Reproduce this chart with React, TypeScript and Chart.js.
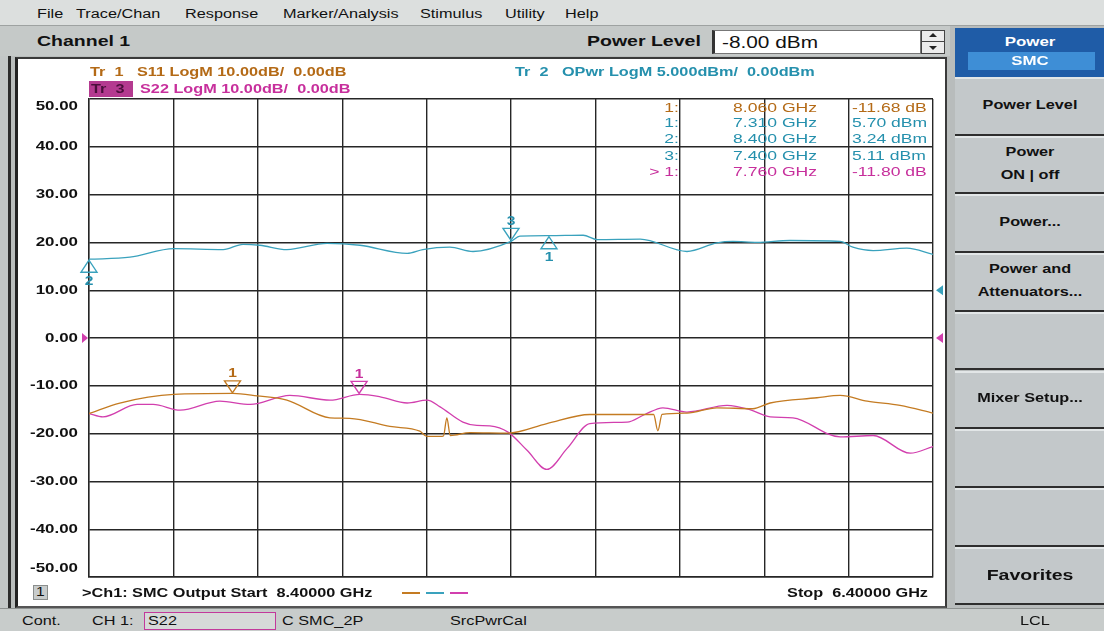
import React, { useEffect, useRef } from 'react';
import { Chart, registerables } from 'chart.js';

Chart.register(...registerables);

// ---------- data ----------
const xTickValues = [6.4, 6.6, 6.8, 7.0, 7.2, 7.4, 7.6, 7.8, 8.0, 8.2, 8.4];
const yTickValues = [50, 40, 30, 20, 10, 0, -10, -20, -30, -40, -50];
const startFreq = 8.4;
const stopFreq = 6.4;
const powerLevel = -8.0;

// Tr 1: S11 (dB)
const s11Freqs = [8.400, 8.327, 8.199, 8.059, 8.002, 7.931, 7.829, 7.782, 7.687, 7.616, 7.599, 7.568, 7.560, 7.552, 7.544, 7.497, 7.407, 7.315, 7.213, 7.125, 7.062, 7.052, 7.042, 6.983, 6.912, 6.827, 6.786, 6.675, 6.620, 6.556, 6.478, 6.400];
const s11Values = [-15.8, -13.6, -11.8, -11.6, -12.1, -13.0, -16.7, -16.8, -18.5, -19.5, -20.6, -20.6, -20.5, -16.7, -20.4, -19.8, -19.9, -17.9, -16.0, -16.0, -16.0, -19.4, -16.0, -15.7, -14.6, -14.8, -13.6, -12.5, -12.0, -13.2, -14.1, -15.7];

// Tr 2: OPwr (dBm)
const opwrFreqs = [8.400, 8.303, 8.199, 8.082, 8.035, 7.995, 7.931, 7.836, 7.758, 7.646, 7.609, 7.545, 7.490, 7.400, 7.379, 7.310, 7.229, 7.196, 7.094, 6.983, 6.912, 6.874, 6.817, 6.739, 6.620, 6.590, 6.542, 6.462, 6.400];
const opwrValues = [3.24, 3.45, 4.35, 4.25, 4.80, 4.70, 4.25, 4.90, 4.70, 3.85, 4.25, 4.50, 4.05, 5.11, 5.65, 5.70, 5.75, 5.30, 5.35, 4.05, 4.95, 5.10, 5.00, 5.20, 5.10, 4.50, 4.15, 4.40, 3.75];

// Tr 3: S22 (dB)
const s22Freqs = [8.400, 8.367, 8.286, 8.248, 8.184, 8.090, 8.018, 7.924, 7.829, 7.758, 7.710, 7.646, 7.599, 7.568, 7.514, 7.481, 7.450, 7.407, 7.362, 7.315, 7.267, 7.213, 7.125, 7.083, 7.040, 6.983, 6.888, 6.834, 6.786, 6.732, 6.620, 6.542, 6.454, 6.400];
const s22Values = [-15.8, -16.5, -13.9, -13.9, -15.1, -13.2, -13.9, -12.0, -13.0, -11.8, -12.3, -13.6, -13.0, -14.4, -17.6, -18.3, -18.4, -19.7, -23.5, -27.5, -23.1, -17.9, -17.6, -16.0, -14.6, -15.5, -14.1, -15.0, -16.5, -16.7, -20.7, -20.4, -24.1, -22.7];

// markers
const markerIds = ['1', '1', '2', '3', '1'];
const markerTraces = ['S11', 'OPwr', 'OPwr', 'OPwr', 'S22'];
const markerFreqs = [8.06, 7.31, 8.40, 7.40, 7.76];
const markerValues = [-11.68, 5.70, 3.24, 5.11, -11.80];
const markerUnits = ['dB', 'dBm', 'dBm', 'dBm', 'dB'];
const activeMarker = 4;

// ---------- styles ----------
const SX = 1.3;
const FONT = '"Liberation Sans", Arial, sans-serif';
const TRACE: Record<string, string> = { S11: '#c47b22', OPwr: '#3aa2bd', S22: '#d23fae' };
const TEXT: Record<string, string> = { S11: '#b46a16', OPwr: '#2590ad', S22: '#c72f9c' };
const markerBelow = [false, true, true, false, false];

const overlayPlugin = {
  id: 'vnaOverlay',
  afterDatasetsDraw(chart: any) {
    const { ctx, chartArea, scales } = chart;
    const xs = scales.x, ys = scales.y, y2 = scales.y2;
    ctx.save();
    // y tick labels
    ctx.fillStyle = '#111';
    ctx.font = `bold 13px ${FONT}`;
    ctx.textAlign = 'right';
    ctx.textBaseline = 'middle';
    yTickValues.forEach((v) => {
      let py = ys.getPixelForValue(v);
      py = Math.min(Math.max(py, chartArea.top + 7), chartArea.bottom - 9);
      ctx.save();
      ctx.translate(chartArea.left - 11, py);
      ctx.scale(SX, 1);
      ctx.fillText(v.toFixed(2), 0, 0);
      ctx.restore();
    });
    // reference arrows
    const fillTri = (pts: number[][], color: string) => {
      ctx.fillStyle = color;
      ctx.beginPath();
      ctx.moveTo(pts[0][0], pts[0][1]);
      ctx.lineTo(pts[1][0], pts[1][1]);
      ctx.lineTo(pts[2][0], pts[2][1]);
      ctx.closePath();
      ctx.fill();
    };
    const r0 = ys.getPixelForValue(0);
    const r2 = y2.getPixelForValue(0);
    const R = chartArea.right;
    fillTri([[R + 3, r2], [R + 10, r2 - 5], [R + 10, r2 + 5]], TRACE.OPwr);
    fillTri([[R + 3, r0], [R + 10, r0 - 5], [R + 10, r0 + 5]], TRACE.S22);
    const L = chartArea.left;
    fillTri([[L - 1, r0], [L - 7, r0 - 5], [L - 7, r0 + 5]], TRACE.S22);
    // markers
    markerFreqs.forEach((f, i) => {
      const tr = markerTraces[i];
      const sc = tr === 'OPwr' ? y2 : ys;
      const px = xs.getPixelForValue(f);
      const py = sc.getPixelForValue(markerValues[i]);
      const below = markerBelow[i];
      ctx.strokeStyle = TRACE[tr];
      ctx.lineWidth = 1.4;
      ctx.beginPath();
      if (below) {
        ctx.moveTo(px, py + 1);
        ctx.lineTo(px - 8, py + 13);
        ctx.lineTo(px + 8, py + 13);
      } else {
        ctx.moveTo(px, py - 1);
        ctx.lineTo(px - 8, py - 13);
        ctx.lineTo(px + 8, py - 13);
      }
      ctx.closePath();
      ctx.stroke();
      ctx.fillStyle = TEXT[tr];
      ctx.font = `bold 12px ${FONT}`;
      ctx.textAlign = 'center';
      ctx.save();
      ctx.translate(px, below ? py + 22 : py - 20);
      ctx.scale(SX, 1);
      ctx.fillText(markerIds[i], 0, 0);
      ctx.restore();
    });
    ctx.restore();
  },
};

type TxtProps = {
  x: number; y: number; size?: number; bold?: boolean; color?: string;
  align?: 'left' | 'right' | 'center'; family?: string; children: React.ReactNode;
};
function Txt({ x, y, size = 13, bold = false, color = '#111', align = 'left', family = FONT, children }: TxtProps) {
  const lh = Math.round(size * 1.2);
  const style: React.CSSProperties = {
    position: 'absolute', left: x, top: y - lh / 2, fontSize: size, lineHeight: `${lh}px`,
    height: lh, fontWeight: bold ? 700 : 400, color, whiteSpace: 'pre', fontFamily: family,
  };
  if (align === 'left') { style.transform = `scaleX(${SX})`; style.transformOrigin = 'left center'; }
  else if (align === 'right') { style.transform = `translateX(-100%) scaleX(${SX})`; style.transformOrigin = 'right center'; }
  else { style.transform = `translateX(-50%) scaleX(${SX})`; style.transformOrigin = 'center center'; }
  return <div style={style}>{children}</div>;
}

const abs = (left: number, top: number, width: number, height: number, extra: React.CSSProperties = {}): React.CSSProperties => ({
  position: 'absolute', left, top, width, height, boxSizing: 'border-box', ...extra,
});

const menuItems = ['File', 'Trace/Chan', 'Response', 'Marker/Analysis', 'Stimulus', 'Utility', 'Help'];
const menuX = [37, 76, 185, 283, 420, 505, 565];
const buttons = [['Power Level'], ['Power', 'ON | off'], ['Power...'], ['Power and', 'Attenuators...'], [], ['Mixer Setup...'], [], [], ['Favorites']];
const markerRowY = [108, 123, 139, 156, 172];

export default function App() {
  const canvasRef = useRef<HTMLCanvasElement | null>(null);

  useEffect(() => {
    document.body.style.margin = '0';
    const canvas = canvasRef.current;
    if (!canvas) return;
    const gridColor = '#262626';
    const mk = (fs: number[], vs: number[]) => fs.map((f, i) => ({ x: f, y: vs[i] }));
    const chart = new Chart(canvas, {
      type: 'line',
      data: {
        datasets: [
          { label: 'S11', data: mk(s11Freqs, s11Values), borderColor: TRACE.S11, yAxisID: 'y', cubicInterpolationMode: 'monotone' },
          { label: 'S22', data: mk(s22Freqs, s22Values), borderColor: TRACE.S22, yAxisID: 'y', cubicInterpolationMode: 'monotone' },
          { label: 'OPwr', data: mk(opwrFreqs, opwrValues), borderColor: TRACE.OPwr, yAxisID: 'y2', cubicInterpolationMode: 'monotone' },
        ] as any,
      },
      options: {
        animation: false,
        responsive: false,
        maintainAspectRatio: false,
        layout: { padding: { left: 71, right: 12, top: 40, bottom: 29 } },
        plugins: { legend: { display: false }, tooltip: { enabled: false } },
        elements: { point: { radius: 0 }, line: { borderWidth: 1.3 } },
        scales: {
          x: {
            type: 'linear', min: stopFreq, max: startFreq, reverse: true,
            afterBuildTicks: (s: any) => { s.ticks = xTickValues.map((v) => ({ value: v })); },
            afterFit: (s: any) => { s.height = 0; },
            ticks: { display: false },
            grid: { color: gridColor, lineWidth: 1.4, drawTicks: false },
            border: { display: true, color: gridColor, width: 1.4 },
          },
          y: {
            type: 'linear', min: -50, max: 50,
            afterBuildTicks: (s: any) => { s.ticks = yTickValues.map((v) => ({ value: v })); },
            afterFit: (s: any) => { s.width = 0; },
            ticks: { display: false },
            grid: { color: gridColor, lineWidth: 1.4, drawTicks: false },
            border: { display: true, color: gridColor, width: 1.4 },
          },
          y2: { type: 'linear', display: false, min: -30, max: 20 },
        },
      } as any,
      plugins: [overlayPlugin],
    });
    return () => chart.destroy();
  }, []);

  return (
    <div style={{ position: 'relative', width: 1104, height: 631, overflow: 'hidden', background: '#c3c7c7', fontFamily: FONT }}>
      {/* menu bar */}
      <div style={abs(0, 0, 1104, 26, { background: '#dcdfde', borderBottom: '1px solid #9ea2a1' })} />
      {menuItems.map((m, i) => <Txt key={m} x={menuX[i]} y={14} size={12.5}>{m}</Txt>)}

      {/* channel bar */}
      <div style={abs(0, 26, 1104, 30, { background: '#c5c9c8' })} />
      <Txt x={37} y={41} size={15} bold>Channel 1</Txt>
      <Txt x={587} y={41} size={15} bold>Power Level</Txt>
      <div style={abs(712, 30, 209, 24, { background: '#fff', border: '1px solid #777', borderLeft: '3px solid #333' })} />
      <Txt x={722} y={42} size={16}>{`${powerLevel.toFixed(2)} dBm`}</Txt>
      <div style={abs(921, 30, 24, 24, { background: '#ececec', border: '1px solid #444' })} />
      <div style={abs(921, 41, 24, 1, { background: '#444' })} />
      <div style={{ position: 'absolute', left: 929, top: 33, width: 0, height: 0, borderLeft: '4px solid transparent', borderRight: '4px solid transparent', borderBottom: '4px solid #222' }} />
      <div style={{ position: 'absolute', left: 929, top: 46, width: 0, height: 0, borderLeft: '4px solid transparent', borderRight: '4px solid transparent', borderTop: '4px solid #222' }} />

      {/* chart frame */}
      <div style={abs(8, 56, 942, 552, { background: '#b9bdbc', borderLeft: '3px solid #2d2d2d' })} />
      <div style={abs(15, 57, 932, 551, { background: '#fff', borderLeft: '3px solid #222', borderTop: '2px solid #3a3a3a', borderRight: '2px solid #3a3a3a', borderBottom: '2px solid #555' })} />
      <canvas ref={canvasRef} width={927} height={547} style={{ position: 'absolute', left: 18, top: 59, width: 927, height: 547 }} />

      {/* trace headers */}
      <Txt x={90} y={72} size={12.5} bold color={TEXT.S11}>{'Tr  1   S11 LogM 10.00dB/  0.00dB'}</Txt>
      <div style={abs(89, 81, 44, 16, { background: '#b43a90' })} />
      <Txt x={91} y={89} size={12.5} bold color="#4a0f3c">{'Tr  3'}</Txt>
      <Txt x={140} y={89} size={12.5} bold color={TEXT.S22}>{'S22 LogM 10.00dB/  0.00dB'}</Txt>
      <Txt x={515} y={72} size={12.5} bold color={TEXT.OPwr}>{'Tr  2   OPwr LogM 5.000dBm/  0.00dBm'}</Txt>

      {/* marker table */}
      {markerFreqs.map((f, i) => (
        <React.Fragment key={i}>
          <Txt x={679} y={markerRowY[i]} size={13.5} color={TEXT[markerTraces[i]]} align="right">{`${i === activeMarker ? '> ' : ''}${markerIds[i]}:`}</Txt>
          <Txt x={817} y={markerRowY[i]} size={13.5} color={TEXT[markerTraces[i]]} align="right">{`${f.toFixed(3)} GHz`}</Txt>
          <Txt x={852} y={markerRowY[i]} size={13.5} color={TEXT[markerTraces[i]]}>{`${markerValues[i].toFixed(2)} ${markerUnits[i]}`}</Txt>
        </React.Fragment>
      ))}

      {/* bottom info line */}
      <div style={abs(33, 585, 15, 15, { background: '#c8cccc', border: '1px solid #8a8e8d' })} />
      <Txt x={36} y={592} size={12}>1</Txt>
      <Txt x={82} y={593} size={12.5} bold>{`>Ch1: SMC Output Start  ${startFreq.toFixed(5)} GHz`}</Txt>
      <div style={abs(402, 592, 18, 2, { background: TRACE.S11 })} />
      <div style={abs(426, 592, 18, 2, { background: TRACE.OPwr })} />
      <div style={abs(450, 592, 18, 2, { background: TRACE.S22 })} />
      <Txt x={928} y={593} size={12.5} bold align="right">{`Stop  ${stopFreq.toFixed(5)} GHz`}</Txt>

      {/* right panel */}
      <div style={abs(950, 26, 154, 582, { background: '#b8bcbc' })} />
      <div style={abs(955, 28, 149, 49, { background: '#1f5ca7' })} />
      <Txt x={1030} y={42} size={13} bold color="#fff" align="center">Power</Txt>
      <div style={abs(968, 52, 127, 18, { background: '#3e8ed6' })} />
      <Txt x={1030} y={61} size={13} bold color="#fff" align="center">SMC</Txt>
      {buttons.map((b, i) => {
        const top = 77 + i * 58.7;
        const h = 58.7;
        const cy = top + h / 2 - 1;
        const fav = b[0] === 'Favorites';
        return (
          <React.Fragment key={i}>
            <div style={abs(955, top, 149, h, { background: '#c3c8ca', borderTop: '2px solid #e2e6e7', borderBottom: '2px solid #2e2e2e' })} />
            {b.length === 1 && <Txt x={1030} y={cy} size={fav ? 15 : 12.5} bold align="center">{b[0]}</Txt>}
            {b.length === 2 && (
              <>
                <Txt x={1030} y={cy - 12} size={12.5} bold align="center">{b[0]}</Txt>
                <Txt x={1030} y={cy + 11} size={12.5} bold align="center">{b[1]}</Txt>
              </>
            )}
          </React.Fragment>
        );
      })}

      {/* status bar */}
      <div style={abs(0, 608, 1104, 23, { background: '#c8cccb', borderTop: '1px solid #8d9190' })} />
      <Txt x={22} y={621} size={12.5}>Cont.</Txt>
      <Txt x={92} y={621} size={12.5}>CH 1:</Txt>
      <div style={abs(144, 612, 132, 18, { border: '1.5px solid #c2399b', background: '#d6d9d8' })} />
      <Txt x={148} y={621} size={12.5}>S22</Txt>
      <Txt x={282} y={621} size={12.5}>C SMC_2P</Txt>
      <Txt x={450} y={621} size={12.5}>SrcPwrCal</Txt>
      <Txt x={1020} y={621} size={12.5}>LCL</Txt>
    </div>
  );
}
